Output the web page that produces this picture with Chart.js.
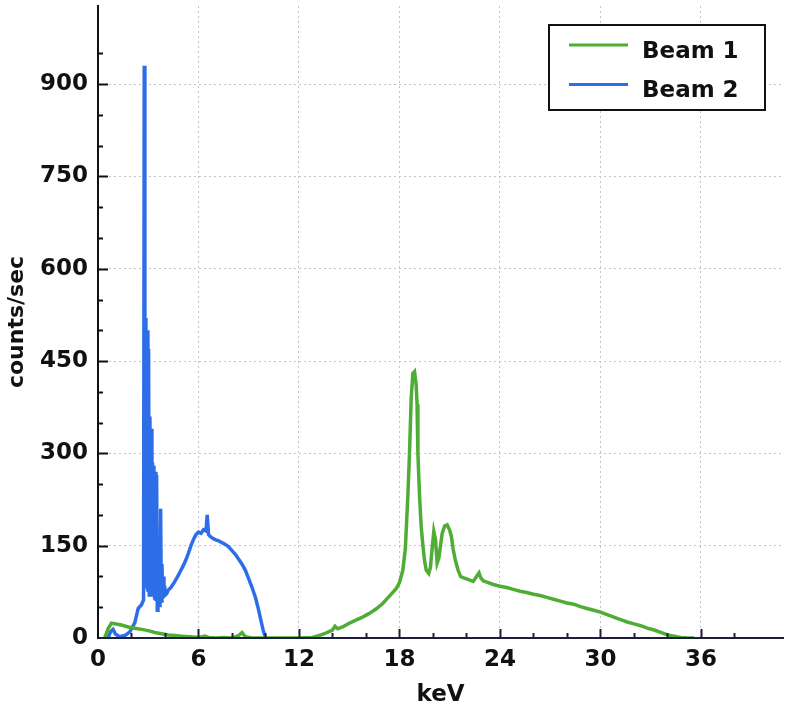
<!DOCTYPE html>
<html>
<head>
<meta charset="utf-8">
<script src="https://cdn.jsdelivr.net/npm/chart.js@4.4.0/dist/chart.umd.min.js"></script>
<style>
  html, body { margin: 0; background: #fff; }
</style>
</head>
<body>
<canvas id="spectrum" width="787" height="709"></canvas>
<script>
// Spectrum data (keV vs counts/sec)
const beam1Kev = [0.4, 0.6, 0.8, 1.0, 1.4, 1.8, 2.2, 2.6, 3.0, 3.4, 3.8, 4.2, 4.6, 5.0, 5.5, 6.0, 6.4, 6.6, 7.0, 7.5, 8.0, 8.4, 8.6, 8.8, 9.2, 10, 11, 12, 12.8, 13.2, 13.6, 14.0, 14.15, 14.3, 14.6, 15.0, 15.4, 15.8, 16.2, 16.6, 17.0, 17.4, 17.8, 18.0, 18.2, 18.35, 18.5, 18.6, 18.7, 18.8, 18.9, 19.0, 19.05, 19.1, 19.2, 19.3, 19.4, 19.5, 19.6, 19.75, 19.85, 19.95, 20.05, 20.15, 20.25, 20.35, 20.45, 20.55, 20.7, 20.85, 21.0, 21.1, 21.2, 21.35, 21.5, 21.65, 21.8, 22.0, 22.2, 22.4, 22.6, 22.75, 22.85, 23.0, 23.3, 23.6, 24.0, 24.4, 24.8, 25.2, 25.6, 26.0, 26.4, 26.8, 27.2, 27.6, 28.0, 28.4, 28.8, 29.2, 29.6, 30.0, 30.4, 30.8, 31.2, 31.6, 32.0, 32.4, 32.8, 33.2, 33.6, 34.0, 34.4, 34.8, 35.2, 35.6];
const beam1Counts = [0, 15, 24, 23, 21, 18, 16, 14, 12, 9, 7, 5, 4, 3, 2, 1, 3, 1, 0, 1, 0, 4, 9, 2, 0, 0, 0, 0, 1, 4, 8, 13, 19, 15, 18, 24, 29, 34, 40, 47, 56, 68, 80, 90, 110, 145, 230, 300, 390, 430, 433, 410, 380, 300, 230, 180, 150, 125, 110, 105, 115, 145, 173, 160, 122, 130, 150, 170, 182, 184, 175, 165, 145, 125, 110, 100, 98, 96, 94, 92, 100, 106, 98, 93, 90, 87, 84, 82, 79, 76, 74, 71, 69, 66, 63, 60, 57, 55, 51, 48, 45, 42, 38, 34, 30, 26, 23, 20, 16, 13, 9, 5, 3, 1, 0, 0];

const beam2Kev = [0.6, 0.75, 0.9, 1.05, 1.3, 1.6, 1.9, 2.2, 2.4, 2.6, 2.72, 2.76, 2.8, 2.83, 2.86, 2.9, 2.94, 2.98, 3.02, 3.06, 3.1, 3.14, 3.18, 3.22, 3.26, 3.3, 3.34, 3.38, 3.42, 3.46, 3.5, 3.54, 3.58, 3.62, 3.66, 3.7, 3.74, 3.78, 3.82, 3.86, 3.9, 3.94, 3.98, 4.02, 4.1, 4.2, 4.35, 4.5, 4.65, 4.8, 4.95, 5.1, 5.25, 5.4, 5.55, 5.7, 5.85, 6.0, 6.15, 6.3, 6.45, 6.52, 6.6, 6.7, 6.85, 7.0, 7.2, 7.4, 7.6, 7.8, 8.0, 8.2, 8.4, 8.6, 8.8, 9.0, 9.2, 9.4, 9.55, 9.7, 9.85, 10.0];
const beam2Counts = [0, 10, 14, 6, 2, 4, 10, 25, 48, 54, 62, 930, 410, 515, 520, 80, 500, 75, 470, 70, 360, 72, 340, 68, 285, 70, 280, 62, 270, 60, 265, 45, 140, 55, 130, 50, 210, 60, 120, 65, 100, 70, 85, 70, 72, 78, 82, 88, 95, 102, 110, 118, 127, 138, 150, 160, 168, 172, 170, 176, 174, 200, 168, 165, 162, 160, 158, 155, 152, 148, 142, 136, 128, 120, 110, 96, 82, 66, 50, 32, 14, 0];

const seriesNames = ['Beam 1', 'Beam 2'];
const seriesColors = ['#4fad35', '#2d6ee8'];

const xTickStep = 2, xLabelStep = 6;
const yTickStep = 50, yLabelStep = 150;

const FONT = '"DejaVu Sans", sans-serif';

function toPoints(xs, ys) {
    return xs.map((x, i) => ({ x: x, y: ys[i] }));
}

// ticks pointing into the plot, long on labelled values
const innerTicks = {
    id: 'innerTicks',
    afterDatasetsDraw(chart) {
        const { ctx, chartArea, scales } = chart;
        ctx.save();
        ctx.lineWidth = 2;
        ctx.strokeStyle = '#111';
        scales.y.ticks.forEach(t => {
            if (t.value % yTickStep !== 0 || t.value === 0) return;
            const py = Math.round(scales.y.getPixelForValue(t.value)) + 0.5;
            const len = t.value % yLabelStep === 0 ? 10 : 5;
            ctx.beginPath();
            ctx.moveTo(chartArea.left, py);
            ctx.lineTo(chartArea.left + len, py);
            ctx.stroke();
        });
        ctx.strokeStyle = '#1c1f3a';
        scales.x.ticks.forEach(t => {
            if (t.value % xTickStep !== 0 || t.value === 0) return;
            const px = Math.round(scales.x.getPixelForValue(t.value)) + 0.5;
            const len = t.value % xLabelStep === 0 ? 9 : 5;
            ctx.beginPath();
            ctx.moveTo(px, chartArea.bottom);
            ctx.lineTo(px, chartArea.bottom - len);
            ctx.stroke();
        });
        ctx.restore();
    }
};

// boxed legend in the top right corner
const boxLegend = {
    id: 'boxLegend',
    afterDraw(chart) {
        const { ctx } = chart;
        const left = 549, top = 25, w = 216, h = 85;
        ctx.save();
        ctx.fillStyle = '#fff';
        ctx.fillRect(left, top, w, h);
        ctx.lineWidth = 2;
        ctx.strokeStyle = '#111';
        ctx.strokeRect(left, top, w, h);
        ctx.font = 'bold 23px ' + FONT;
        ctx.textBaseline = 'middle';
        chart.data.datasets.forEach((ds, i) => {
            const y = top + 20 + i * 39.5;
            ctx.strokeStyle = ds.borderColor;
            ctx.lineWidth = 3;
            ctx.beginPath();
            ctx.moveTo(left + 20, y);
            ctx.lineTo(left + 79, y);
            ctx.stroke();
            ctx.fillStyle = '#111';
            ctx.fillText(ds.label, left + 93, y + 7);
        });
        ctx.restore();
    }
};

const ctx = document.getElementById('spectrum').getContext('2d');
new Chart(ctx, {
    type: 'line',
    data: {
        datasets: [
            {
                label: seriesNames[0],
                data: toPoints(beam1Kev, beam1Counts),
                borderColor: seriesColors[0],
                borderWidth: 3.5,
                pointRadius: 0,
                tension: 0
            },
            {
                label: seriesNames[1],
                data: toPoints(beam2Kev, beam2Counts),
                borderColor: seriesColors[1],
                borderWidth: 3.5,
                pointRadius: 0,
                tension: 0
            }
        ]
    },
    options: {
        responsive: false,
        animation: false,
        layout: { padding: { top: 6, right: 4, left: 0, bottom: 0 } },
        plugins: {
            legend: { display: false },
            tooltip: { enabled: false }
        },
        scales: {
            x: {
                type: 'linear',
                min: 0,
                max: 40.9,
                afterBuildTicks: s => { s.ticks = s.ticks.filter(t => t.value % xTickStep === 0); },
                afterFit: s => { s.height = 71; s.paddingLeft = 0; s.paddingRight = 0; },
                ticks: {
                    stepSize: xTickStep,
                    autoSkip: false,
                    maxRotation: 0,
                    padding: 8,
                    color: '#111',
                    font: { family: FONT, size: 23, weight: 'bold' },
                    callback: v => (v % xLabelStep === 0 ? v : '')
                },
                grid: {
                    drawTicks: false,
                    lineWidth: 1,
                    color: c => (c.tick && c.tick.value > 0 && c.tick.value % xLabelStep === 0 ? '#c4c4c4' : 'transparent')
                },
                border: { color: '#1c1f3a', width: 2, dash: [2, 3], z: 1 },
                title: {
                    display: true,
                    text: 'keV',
                    color: '#111',
                    padding: { top: 0, bottom: 0 },
                    font: { family: FONT, size: 23, weight: 'bold', lineHeight: 1.2 }
                }
            },
            y: {
                min: 0,
                max: 1027,
                afterBuildTicks: s => { s.ticks = s.ticks.filter(t => t.value % yTickStep === 0); },
                afterFit: s => { s.width = 98; s.paddingTop = 0; s.paddingBottom = 0; },
                ticks: {
                    stepSize: yTickStep,
                    autoSkip: false,
                    padding: 10,
                    color: '#111',
                    font: { family: FONT, size: 23, weight: 'bold' },
                    callback: v => (v % yLabelStep === 0 ? v : '')
                },
                grid: {
                    drawTicks: false,
                    lineWidth: 1,
                    color: c => (c.tick && c.tick.value > 0 && c.tick.value % yLabelStep === 0 ? '#c4c4c4' : 'transparent')
                },
                border: { color: '#111', width: 2, dash: [2, 3], z: 1 },
                title: {
                    display: true,
                    text: 'counts/sec',
                    color: '#111',
                    padding: { top: 4, bottom: 0 },
                    font: { family: FONT, size: 22, weight: 'bold', lineHeight: 1.2 }
                }
            }
        }
    },
    plugins: [innerTicks, boxLegend]
});
</script>
</body>
</html>
